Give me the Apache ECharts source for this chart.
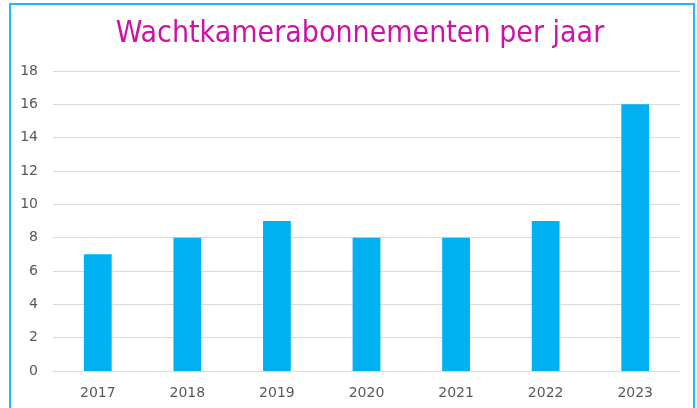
<!DOCTYPE html>
<html><head><meta charset="utf-8">
<script src="https://cdn.jsdelivr.net/npm/echarts@6/dist/echarts.min.js"></script>
<style>
html,body{margin:0;padding:0;background:#fff;}
#frame{position:absolute;left:9px;top:3px;width:686px;height:410px;border:2px solid #1DBCF2;box-sizing:border-box;}
#c{position:absolute;left:0;top:0;width:697px;height:408px;}
</style></head>
<body>
<div id="frame"></div>
<div id="c"></div>
<script>
const categories = ['2017','2018','2019','2020','2021','2022','2023'];
const values = [7, 8, 9, 8, 8, 9, 16];
const yTicks = { min: 0, max: 18, interval: 2 };
const titleText = 'Wachtkamerabonnementen per jaar';

const chart = echarts.init(document.getElementById('c'), null, {renderer:'canvas'});
chart.setOption({
  animation: false,
  title: {
    text: titleText, left: 355, textAlign: 'center', top: 14,
    textStyle: { color: '#CC12A8', fontFamily: 'DejaVu Sans Condensed', fontSize: 30, fontWeight: 'normal' }
  },
  grid: { left: 53, right: 17, top: 71, bottom: 37, containLabel: false },
  xAxis: {
    type: 'category', data: categories,
    axisLine: { show: true, lineStyle: { color: '#D9D9D9', width: 1 } },
    axisTick: { show: false },
    axisLabel: { color: '#595959', fontFamily: 'DejaVu Sans', fontSize: 14, margin: 15 }
  },
  yAxis: {
    type: 'value', min: yTicks.min, max: yTicks.max, interval: yTicks.interval,
    axisLine: { show: false }, axisTick: { show: false },
    splitLine: { lineStyle: { color: '#D9D9D9', width: 1 } },
    axisLabel: { color: '#595959', fontFamily: 'DejaVu Sans', fontSize: 14, margin: 15 }
  },
  series: [{
    type: 'bar', data: values, barWidth: '31%',
    itemStyle: { color: '#00B0F0' }
  }]
});
</script>
</body></html>
